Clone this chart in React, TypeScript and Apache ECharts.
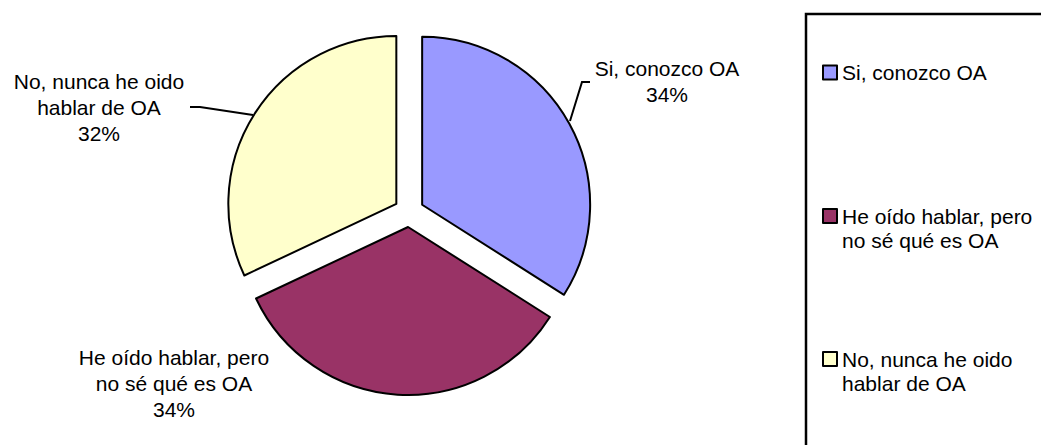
import React, { useEffect, useRef } from "react";
import * as echarts from "echarts";

const categories = [
  "Si, conozco OA",
  "He oído hablar, pero\nno sé qué es OA",
  "No, nunca he oido\nhablar de OA",
];
const values = [34, 34, 32];
const colors = ["#9999FF", "#993366", "#FFFFCC"];

const FONT = "'Liberation Sans', Arial, sans-serif";

// label placement (layout only)
const labelPos = [
  { x: 667, y: 81, line: [[570, 121], [582, 82], [590, 82]] },
  { x: 174, y: 383, line: null },
  { x: 99, y: 107, line: [[253, 115], [200, 107], [190, 107]] },
];
const legendTops = [60.5, 180, 323];

export default function App() {
  const ref = useRef<HTMLDivElement>(null);
  useEffect(() => {
    if (!ref.current) return;
    const chart = echarts.init(ref.current, null, { renderer: "svg" });
    const legends = categories.map((c, i) => ({
      data: [c],
      orient: "vertical",
      left: 822,
      top: legendTops[i],
      padding: 0,
      itemWidth: 14,
      itemHeight: 14,
      icon: "rect",
      selectedMode: false,
      formatter: (n: string) => (n.includes("\n") ? "\n" + n : n),
      itemStyle: { borderColor: "#000", borderWidth: 2 },
      textStyle: {
        fontFamily: FONT,
        fontSize: 21,
        color: "#000",
        lineHeight: 24,
      },
    }));
    const common = {
      type: "pie",
      center: [409, 212],
      radius: 168,
      startAngle: 90,
      clockwise: true,
      avoidLabelOverlap: false,
      emphasis: { disabled: true },
      silent: true,
    };
    chart.setOption({
      animation: false,
      backgroundColor: "#fff",
      legend: legends,
      graphic: [
        {
          type: "rect",
          shape: { x: 806, y: 14, width: 400, height: 500 },
          style: { fill: "none", stroke: "#000", lineWidth: 2.5 },
          silent: true,
        },
      ],
      series: [
        {
          ...common,
          selectedMode: "multiple",
          selectedOffset: 15,
          select: { itemStyle: { borderColor: "#000", borderWidth: 2 } },
          itemStyle: { borderColor: "#000", borderWidth: 2 },
          label: { show: false },
          labelLine: { show: false },
          data: categories.map((name, i) => ({
            name,
            value: values[i],
            selected: true,
            itemStyle: { color: colors[i] },
          })),
        },
        {
          ...common,
          selectedMode: false,
          itemStyle: { color: "rgba(0,0,0,0)", borderWidth: 0 },
          label: {
            show: true,
            position: "outside",
            formatter: "{b}\n{d}%",
            fontFamily: FONT,
            fontSize: 21,
            lineHeight: 26,
            color: "#000",
            align: "center",
          },
          labelLine: {
            show: true,
            lineStyle: { color: "#000", width: 2 },
          },
          labelLayout: (params: any) => {
            const p = labelPos[params.dataIndex];
            const out: any = {
              x: p.x,
              y: p.y,
              align: "center",
              verticalAlign: "middle",
            };
            if (p.line) out.labelLinePoints = p.line;
            return out;
          },
          data: categories.map((name, i) => ({
            name,
            value: values[i],
            labelLine: { show: labelPos[i].line != null },
          })),
        },
      ],
    });
    return () => chart.dispose();
  }, []);
  return (
    <div
      ref={ref}
      style={{ position: "fixed", left: 0, top: 0, width: 1041, height: 445 }}
    />
  );
}
